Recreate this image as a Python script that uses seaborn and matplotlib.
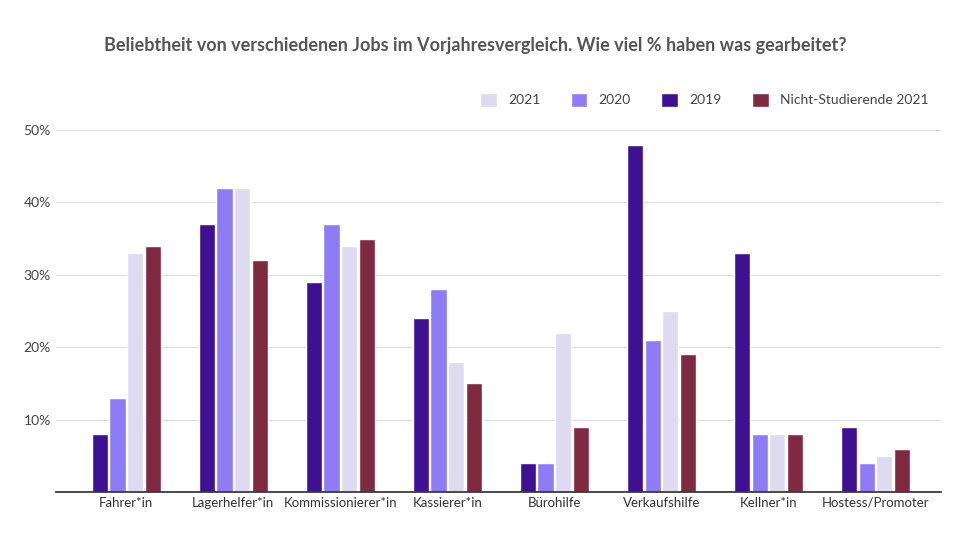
import numpy as np
import pandas as pd
import seaborn as sns
import matplotlib
matplotlib.use("Agg")
from matplotlib import pyplot as plt

jobs = ["Fahrer*in", "Lagerhelfer*in", "Kommissionierer*in", "Kassierer*in",
        "Bürohilfe", "Verkaufshilfe", "Kellner*in", "Hostess/Promoter"]
v2019 = [8, 37, 29, 24, 4, 48, 33, 9]
v2020 = [13, 42, 37, 28, 4, 21, 8, 4]
v2021 = [33, 42, 34, 18, 22, 25, 8, 5]
vns2021 = [34, 32, 35, 15, 9, 19, 8, 6]

series = ["2019", "2020", "2021", "Nicht-Studierende 2021"]
colors = ["#3d1192", "#8e7cf7", "#dedbf0", "#7f2a40"]

rows = []
for name, vals in zip(series, [v2019, v2020, v2021, vns2021]):
    for job, v in zip(jobs, vals):
        rows.append({"Job": job, "Jahr": name, "Wert": v})
data = pd.DataFrame(rows)

sns.set_theme(style="white")
plt.rcParams['font.family'] = ['Lato', 'DejaVu Sans']

fig = plt.figure(figsize=(9.6, 5.4), dpi=100)
ax = fig.add_axes([0.058, 0.089, 0.922, 0.67])
sns.barplot(data=data, x="Job", y="Wert", hue="Jahr", hue_order=series,
            palette=colors, ax=ax, width=0.66, gap=0.08, saturation=1)

ax.set_ylim(0, 50)
ax.set_yticks([10, 20, 30, 40, 50])
ax.set_yticklabels([f"{t}%" for t in [10, 20, 30, 40, 50]], color="#444444", fontsize=10)
ax.tick_params(axis="x", labelsize=9.5, colors="#333333", length=0)
ax.tick_params(axis="y", length=0)
ax.grid(axis="y", color="#dddddd", linewidth=0.8)
ax.set_axisbelow(True)
for s in ["top", "right", "left"]:
    ax.spines[s].set_visible(False)
ax.spines["bottom"].set_color("#333333")
ax.set_xlabel("")
ax.set_ylabel("")
ax.set_xlim(-0.66, 7.61)

handles, labels = ax.get_legend_handles_labels()
order = [2, 1, 0, 3]
ax.legend([handles[i] for i in order], [labels[i] for i in order], ncol=4,
          loc="lower right", bbox_to_anchor=(1.0, 1.03), frameon=False,
          fontsize=10, handlelength=1.2, handleheight=1.2, columnspacing=2.2,
          labelcolor="#444444")

fig.text(0.495, 0.915, "Beliebtheit von verschiedenen Jobs im Vorjahresvergleich. Wie viel % haben was gearbeitet?",
         ha="center", va="center", fontsize=13, fontweight="bold", color="#555555")

fig.savefig("out.png", dpi=100)
